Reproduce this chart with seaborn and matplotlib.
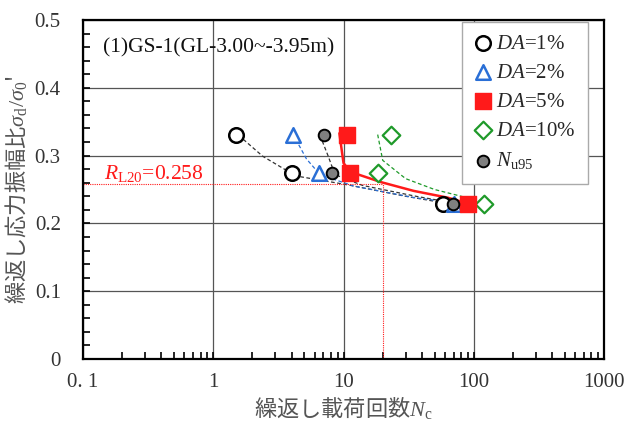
import numpy as np
import pandas as pd
import matplotlib
matplotlib.use("Agg")
import matplotlib.pyplot as plt
from matplotlib.ticker import MultipleLocator, LogLocator, NullFormatter
import seaborn as sns

# data
da1_n = [1.5, 4.05, 58]
da1_r = [0.33, 0.275, 0.229]
da2_n = [4.1, 6.5, 71]
da2_r = [0.33, 0.275, 0.229]
da5_n = [10.7, 11.3, 91]
da5_r = [0.33, 0.275, 0.229]
da10_n = [23, 18.3, 119]
da10_r = [0.33, 0.275, 0.229]
nu95_n = [7.1, 8.2, 69]
nu95_r = [0.33, 0.275, 0.229]

# fitted curves
c1_n = [1.7, 2.4, 4.3, 10.7, 30, 56]
c1_r = [0.324, 0.299, 0.27, 0.257, 0.24, 0.231]
c2_n = [4.3, 5.2, 6.6, 12, 35, 68]
c2_r = [0.324, 0.295, 0.272, 0.255, 0.238, 0.231]
c5_n = [9.3, 10.0, 11.3, 19.3, 34.5, 63, 84]
c5_r = [0.333, 0.289, 0.276, 0.261, 0.248, 0.238, 0.231]
c10_n = [18.3, 20, 30, 50, 84]
c10_r = [0.331, 0.293, 0.266, 0.25, 0.239]
cu_n = [6.6, 7.6, 8.6, 14, 36, 66]
cu_r = [0.33, 0.3, 0.272, 0.256, 0.24, 0.231]

rl20 = 0.258
n20 = 20

xticks = [0.1, 1, 10, 100, 1000]
xlabels = ["0. 1", "1", "10", "100", "1000"]
yticks = [0, 0.1, 0.2, 0.3, 0.4, 0.5]
ylabels = ["0", "0.1", "0.2", "0.3", "0.4", "0.5"]

sns.set_style("white")
plt.rcParams['font.family'] = ['Liberation Serif', 'DejaVu Sans']
plt.rcParams['mathtext.fontset'] = 'custom'
plt.rcParams['mathtext.rm'] = 'Liberation Serif'
plt.rcParams['mathtext.it'] = 'Liberation Serif:italic'
plt.rcParams['mathtext.bf'] = 'Liberation Serif:bold'

fig = plt.figure(figsize=(6.27, 4.24), dpi=100)
ax = fig.add_axes([83 / 627, 65 / 424, 521 / 627, 339 / 424])

blue = "#2a6fd6"
green = "#1f9a2a"
red = "#ff1a1a"

# curves
sns.lineplot(x=c1_n, y=c1_r, sort=False, ax=ax, color="#333333", lw=0.9, ls=(0, (3, 2)))
sns.lineplot(x=c2_n, y=c2_r, sort=False, ax=ax, color=blue, lw=0.9, ls=(0, (3, 2)))
sns.lineplot(x=cu_n, y=cu_r, sort=False, ax=ax, color="#333333", lw=0.9, ls=(0, (3, 2)))
sns.lineplot(x=c10_n, y=c10_r, sort=False, ax=ax, color=green, lw=0.9, ls=(0, (3, 2)))
sns.lineplot(x=c5_n, y=c5_r, sort=False, ax=ax, color=red, lw=1.8)

# R_L20 guide lines
ax.plot([0.1, n20], [rl20, rl20], color=red, lw=0.8, ls=(0, (1, 1)))
ax.plot([n20, n20], [0, rl20], color=red, lw=0.8, ls=(0, (1, 1)))

# points
sns.scatterplot(x=da1_n, y=da1_r, ax=ax, marker="o", s=110, facecolor="white",
                edgecolor="black", linewidth=1.8, label=r"$\it{DA}$=1%", zorder=5)
sns.scatterplot(x=da2_n, y=da2_r, ax=ax, marker="^", s=110, facecolor="white",
                edgecolor=blue, linewidth=1.8, label=r"$\it{DA}$=2%", zorder=5)
sns.scatterplot(x=da5_n, y=da5_r, ax=ax, marker="s", s=130, color=red,
                edgecolor=red, linewidth=1, label=r"$\it{DA}$=5%", zorder=6)
sns.scatterplot(x=da10_n, y=da10_r, ax=ax, marker="D", s=80, facecolor="white",
                edgecolor=green, linewidth=1.6, label=r"$\it{DA}$=10%", zorder=5)
sns.scatterplot(x=nu95_n, y=nu95_r, ax=ax, marker="o", s=70, color="#7f7f7f",
                edgecolor="black", linewidth=1.4, label=r"$N_{\rm u95}$", zorder=6)

ax.set_xscale("log")
ax.set_xlim(0.1, 1000)
ax.set_ylim(0, 0.5)

ax.set_xticks(xticks, xlabels)
ax.xaxis.set_minor_locator(LogLocator(base=10, subs=np.arange(2, 10)))
ax.xaxis.set_minor_formatter(NullFormatter())
ax.set_yticks(yticks, ylabels)
ax.yaxis.set_minor_locator(MultipleLocator(0.02))

ax.tick_params(which="both", direction="in", labelsize=15, colors="black",
               labelcolor="#333333", bottom=True, left=True, top=False, right=False)
ax.tick_params(which="major", length=5, width=1.2)
ax.tick_params(which="minor", length=5, width=1.2)
ax.tick_params(axis="x", which="major", pad=10)
ax.tick_params(axis="y", which="major", pad=16)
ax.grid(True, which="major", color="#555555", lw=0.9)
for s in ax.spines.values():
    s.set_color("black")
    s.set_linewidth(1.6)

ax.set_xlabel(r"繰返し載荷回数$N_{\rm c}$", fontsize=16, color="#555555",
              family=["Noto Sans CJK JP", "DejaVu Sans"], labelpad=2)
ax.set_ylabel(r"繰返し応力振幅比$\sigma_{\rm d}/\sigma_0$'", fontsize=16, color="#555555",
              family=["Noto Sans CJK JP", "DejaVu Sans"], labelpad=4)

ax.text(0.143, 0.452, "(1)GS-1(GL-3.00~-3.95m)", fontsize=15.5, color="#111111")
ax.text(0.145, 0.265, r"$R_{\rm L20}$=0.258", fontsize=15.5, color=red)

leg = ax.legend(loc="upper right", bbox_to_anchor=(0.969, 0.995), fontsize=15,
                frameon=True, fancybox=False, edgecolor="#aaaaaa", framealpha=1,
                handletextpad=0.15, handlelength=0.9, labelspacing=0.45,
                borderpad=0.6, borderaxespad=0)

fig.savefig("out.png", dpi=100)
